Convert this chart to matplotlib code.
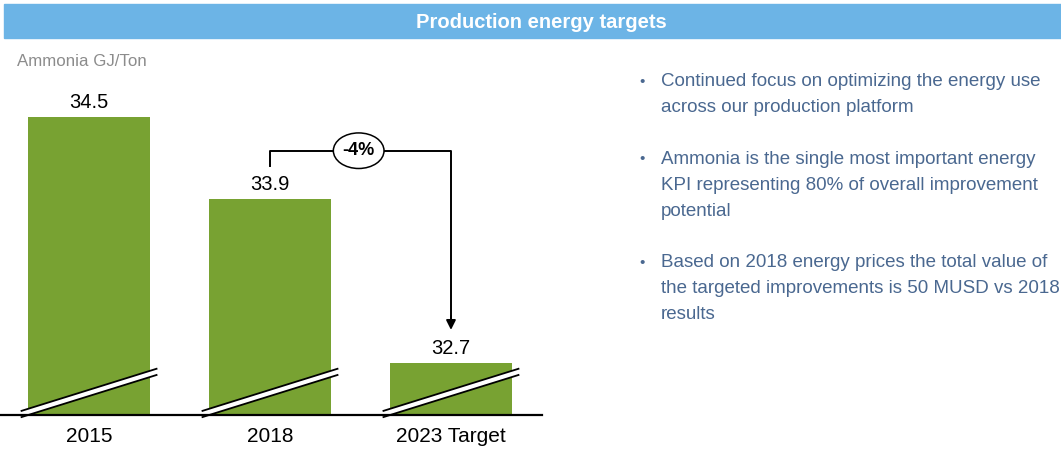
import matplotlib.pyplot as plt
from matplotlib.patches import Rectangle, Ellipse, Polygon
from matplotlib.transforms import blended_transform_factory

plt.rcParams['font.family'] = ['Liberation Sans', 'DejaVu Sans']

categories = ['2015', '2018', '2023 Target']
values = [34.5, 33.9, 32.7]
change_label = '-4%'
unit_label = 'Ammonia GJ/Ton'
title = 'Production energy targets'
bullets = [
    ['Continued focus on optimizing the energy use',
     'across our production platform'],
    ['Ammonia is the single most important energy',
     'KPI representing 80% of overall improvement',
     'potential'],
    ['Based on 2018 energy prices the total value of',
     'the targeted improvements is 50 MUSD vs 2018',
     'results'],
]

GREEN = '#78A232'
BLUE_BAR = '#6CB4E6'
TEXT_BLUE = '#4A6890'

W, H = 1061, 449
fig = plt.figure(figsize=(W / 100, H / 100), dpi=100)

# header band
fig.patches.append(Rectangle((4 / W, 1 - 38 / H), 1 - 4 / W, 34 / H,
                             transform=fig.transFigure, color=BLUE_BAR, zorder=0))
fig.text(541 / W, 1 - 22 / H, title, color='white', fontsize=14.5,
         fontweight='bold', ha='center', va='center')
fig.text(17 / W, 1 - 62 / H, unit_label, color='#8C8C8C', fontsize=12.2,
         ha='left', va='center')

# bar chart with broken value axis
base = 415
ax = fig.add_axes([0, 1 - base / H, 542 / W, (base - 70) / H])
x = list(range(len(categories)))
ax.bar(x, values, width=0.674, color=GREEN, zorder=2)
ax.set_ylim(32.318, 34.84)
ax.set_xlim(-0.492, 2.503)
ax.set_yticks([])
ax.set_xticks(x)
ax.set_xticklabels(categories, fontsize=15)
ax.tick_params(axis='x', length=0, pad=9)
for s in ['top', 'left', 'right']:
    ax.spines[s].set_visible(False)
ax.spines['bottom'].set_linewidth(1.6)
ax.spines['bottom'].set_zorder(5)

# break markers across each bar
trans = blended_transform_factory(ax.transData, ax.transAxes)
for xi in x:
    xl, xr = xi - 0.373, xi + 0.373
    poly = Polygon([(xl, 0.012), (xr, 0.134), (xr, 0.116), (xl, -0.006)],
                   closed=True, facecolor='white', edgecolor='none',
                   transform=trans, zorder=3, clip_on=False)
    ax.add_patch(poly)
    ax.plot([xl, xr], [0.012, 0.134], color='black', lw=1.3,
            transform=trans, zorder=4, clip_on=False)
    ax.plot([xl, xr], [-0.006, 0.116], color='black', lw=1.3,
            transform=trans, zorder=4, clip_on=False)

for xi, v in zip(x, values):
    ax.annotate(f'{v:.1f}', (xi, v), xytext=(0, 6), textcoords='offset points',
                ha='center', va='baseline', fontsize=14.5)

# change bracket between 2018 and target
y_start = values[1] + 0.24
y_top = values[1] + 0.35
y_end = values[2] + 0.24
ax.plot([1, 1, 2, 2], [y_start, y_top, y_top, y_end + 0.03], color='black',
        lw=1.4, zorder=4, clip_on=False)
ax.annotate('', xy=(2, y_end), xytext=(2, y_end + 0.1),
            arrowprops=dict(arrowstyle='-|>', color='black', lw=1.4,
                            mutation_scale=14, shrinkA=0, shrinkB=0))
ax.add_patch(Ellipse((1.49, y_top), 0.28, 0.26, facecolor='white',
                     edgecolor='black', lw=1.1, zorder=5))
ax.text(1.49, y_top, change_label, ha='center', va='center', fontsize=13,
        fontweight='bold', zorder=6)

# bullet text
line_step = 25.8
y = 82
for block in bullets:
    fig.text(639 / W, 1 - y / H, '•', color=TEXT_BLUE, fontsize=11,
             ha='left', va='center')
    for line in block:
        fig.text(661 / W, 1 - y / H, line, color=TEXT_BLUE, fontsize=13.5,
                 ha='left', va='center')
        y += line_step
    y += line_step

fig.savefig('out.png', dpi=100)
